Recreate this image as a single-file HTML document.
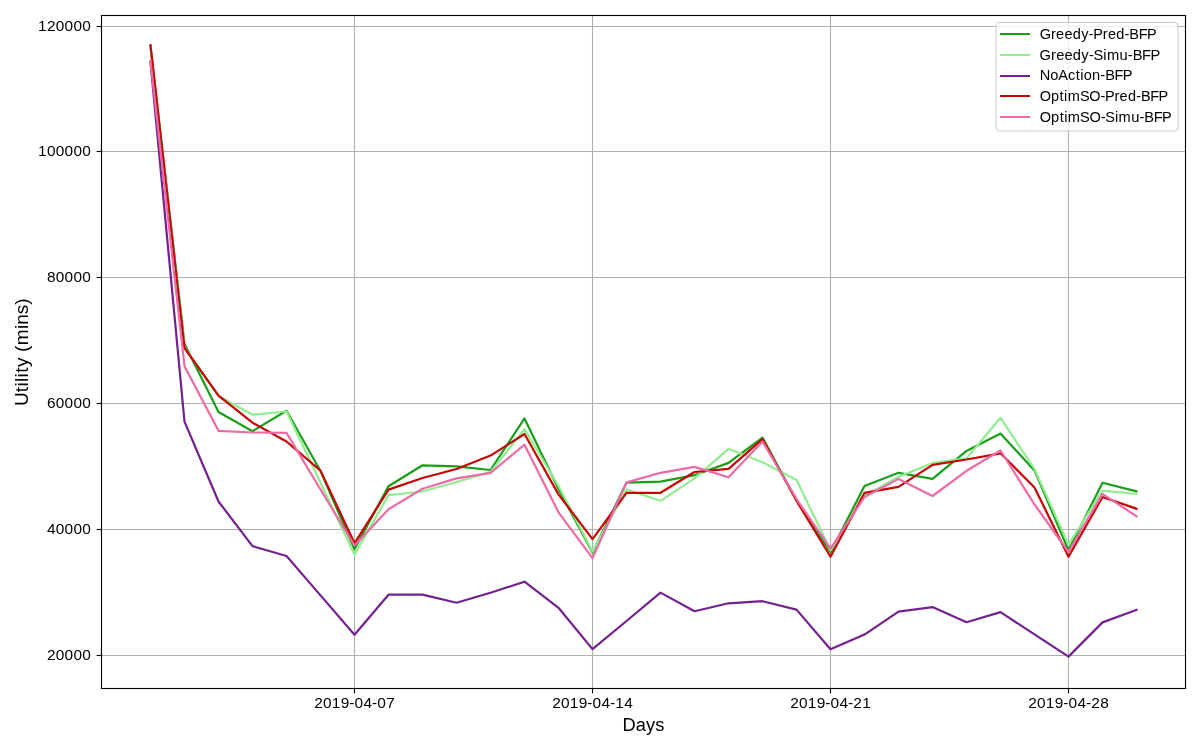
<!DOCTYPE html>
<html><head><meta charset="utf-8"><style>
html,body{margin:0;padding:0;background:#fff;width:1200px;height:750px;overflow:hidden}
svg{display:block;will-change:transform}
text{font-family:"Liberation Sans", sans-serif;fill:#000}
</style></head><body>
<svg width="1200" height="750" viewBox="0 0 1200 750">
<rect x="0" y="0" width="1200" height="750" fill="#fff"/>

<g stroke="#b0b0b0" stroke-width="1.11" fill="none">
<line x1="101.5" y1="26.5" x2="1185.5" y2="26.5"/>
<line x1="101.5" y1="151.5" x2="1185.5" y2="151.5"/>
<line x1="101.5" y1="277.5" x2="1185.5" y2="277.5"/>
<line x1="101.5" y1="403.5" x2="1185.5" y2="403.5"/>
<line x1="101.5" y1="529.5" x2="1185.5" y2="529.5"/>
<line x1="101.5" y1="655.5" x2="1185.5" y2="655.5"/>
<line x1="354.5" y1="15.5" x2="354.5" y2="688.5"/>
<line x1="592.5" y1="15.5" x2="592.5" y2="688.5"/>
<line x1="830.5" y1="15.5" x2="830.5" y2="688.5"/>
<line x1="1068.5" y1="15.5" x2="1068.5" y2="688.5"/>
</g>
<g fill="none" stroke-width="2.2" stroke-linejoin="round" stroke-linecap="square">
<path d="M150.5,46.0 L184.5,343.9 L218.5,412.0 L252.5,431.2 L286.5,410.8 L320.5,471.0 L354.5,549.2 L388.5,486.2 L422.5,465.3 L456.5,466.3 L490.5,470.0 L524.5,418.4 L558.5,489.0 L592.5,552.5 L626.5,482.7 L660.5,481.6 L694.5,475.2 L728.5,462.9 L762.5,437.6 L796.5,500.5 L830.5,552.2 L864.5,486.0 L898.5,472.8 L932.5,478.9 L966.5,450.9 L1000.5,433.6 L1034.5,470.4 L1068.5,550.3 L1102.5,482.8 L1136.5,491.3" stroke="#1a9e1a"/>
<path d="M150.5,46.0 L184.5,347.5 L218.5,396.0 L252.5,414.8 L286.5,411.5 L320.5,482.8 L354.5,554.6 L388.5,495.2 L422.5,491.5 L456.5,482.0 L490.5,471.9 L524.5,429.2 L558.5,486.0 L592.5,551.4 L626.5,489.6 L660.5,500.8 L694.5,478.4 L728.5,448.8 L762.5,462.3 L796.5,480.0 L830.5,550.2 L864.5,496.0 L898.5,476.8 L932.5,462.9 L966.5,458.4 L1000.5,417.8 L1034.5,469.0 L1068.5,544.6 L1102.5,490.7 L1136.5,493.9" stroke="#90ee90"/>
<path d="M150.5,62.0 L184.5,421.6 L218.5,501.5 L252.5,546.1 L286.5,556.0 L320.5,595.4 L354.5,634.8 L388.5,594.7 L422.5,594.6 L456.5,602.7 L490.5,592.7 L524.5,581.7 L558.5,607.8 L592.5,649.1 L626.5,621.0 L660.5,592.6 L694.5,611.2 L728.5,603.3 L762.5,601.2 L796.5,609.6 L830.5,649.2 L864.5,634.6 L898.5,611.6 L932.5,607.1 L966.5,622.2 L1000.5,612.1 L1034.5,634.4 L1068.5,656.6 L1102.5,622.4 L1136.5,609.8" stroke="#72218f"/>
<path d="M150.5,45.3 L184.5,348.0 L218.5,395.6 L252.5,422.7 L286.5,441.5 L320.5,470.6 L354.5,543.3 L388.5,489.6 L422.5,478.0 L456.5,469.0 L490.5,455.6 L524.5,434.0 L558.5,494.4 L592.5,539.1 L626.5,492.8 L660.5,492.8 L694.5,472.0 L728.5,468.8 L762.5,439.2 L796.5,500.8 L830.5,556.8 L864.5,492.8 L898.5,486.9 L932.5,464.8 L966.5,459.5 L1000.5,453.3 L1034.5,487.5 L1068.5,556.7 L1102.5,497.0 L1136.5,508.8" stroke="#c60505"/>
<path d="M150.5,61.0 L184.5,366.2 L218.5,430.8 L252.5,432.5 L286.5,432.9 L320.5,489.5 L354.5,545.5 L388.5,509.2 L422.5,488.7 L456.5,478.4 L490.5,472.8 L524.5,444.7 L558.5,512.3 L592.5,558.1 L626.5,482.4 L660.5,472.8 L694.5,466.9 L728.5,477.3 L762.5,441.5 L796.5,499.0 L830.5,548.6 L864.5,497.0 L898.5,478.9 L932.5,496.0 L966.5,470.8 L1000.5,450.5 L1034.5,504.5 L1068.5,552.0 L1102.5,493.9 L1136.5,516.3" stroke="#ee6aa7"/>
</g>
<rect x="101.5" y="15.5" width="1084.0" height="673.0" fill="none" stroke="#000" stroke-width="1.11"/>
<g stroke="#000" stroke-width="1.11">
<line x1="96.64" y1="26.5" x2="101.5" y2="26.5"/>
<line x1="96.64" y1="151.5" x2="101.5" y2="151.5"/>
<line x1="96.64" y1="277.5" x2="101.5" y2="277.5"/>
<line x1="96.64" y1="403.5" x2="101.5" y2="403.5"/>
<line x1="96.64" y1="529.5" x2="101.5" y2="529.5"/>
<line x1="96.64" y1="655.5" x2="101.5" y2="655.5"/>
<line x1="354.5" y1="688.5" x2="354.5" y2="693.36"/>
<line x1="592.5" y1="688.5" x2="592.5" y2="693.36"/>
<line x1="830.5" y1="688.5" x2="830.5" y2="693.36"/>
<line x1="1068.5" y1="688.5" x2="1068.5" y2="693.36"/>
</g>
<text transform="translate(37.98,30.70) scale(1.08,1)" x="0.11 8.30 16.48 24.66 32.85 41.03" y="0" font-size="14.3">120000</text>
<text transform="translate(37.98,155.70) scale(1.08,1)" x="0.11 8.30 16.48 24.66 32.85 41.03" y="0" font-size="14.3">100000</text>
<text transform="translate(46.81,281.70) scale(1.08,1)" x="0.11 8.30 16.48 24.66 32.85" y="0" font-size="14.3">80000</text>
<text transform="translate(46.81,407.70) scale(1.08,1)" x="0.11 8.30 16.48 24.66 32.85" y="0" font-size="14.3">60000</text>
<text transform="translate(46.81,533.70) scale(1.08,1)" x="0.11 8.30 16.48 24.66 32.85" y="0" font-size="14.3">40000</text>
<text transform="translate(46.81,659.70) scale(1.08,1)" x="0.11 8.30 16.48 24.66 32.85" y="0" font-size="14.3">20000</text>
<text transform="translate(314.14,708.00) scale(1.08,1)" x="0.10 8.26 16.41 24.56 32.61 37.47 45.63 53.68 58.53 66.69" y="0" font-size="14.3">2019-04-07</text>
<text transform="translate(552.14,708.00) scale(1.08,1)" x="0.10 8.26 16.41 24.56 32.61 37.47 45.63 53.68 58.53 66.69" y="0" font-size="14.3">2019-04-14</text>
<text transform="translate(790.14,708.00) scale(1.08,1)" x="0.10 8.26 16.41 24.56 32.61 37.47 45.63 53.68 58.53 66.69" y="0" font-size="14.3">2019-04-21</text>
<text transform="translate(1028.14,708.00) scale(1.08,1)" x="0.10 8.26 16.41 24.56 32.61 37.47 45.63 53.68 58.53 66.69" y="0" font-size="14.3">2019-04-28</text>
<text transform="translate(622.70,730.90) scale(1.037493667926587,1)" x="-0.08 12.56 22.54 31.41" y="0" font-size="17.6">Days</text>
<text transform="translate(27.80,405.73) rotate(-90) scale(1.08,1)" x="-0.26 12.51 17.84 22.00 26.15 30.51 35.87 44.85 49.86 56.00 70.98 75.08 84.80 93.56" y="0" font-size="17.6">Utility (mins)</text>
<rect x="995.9" y="22.5" width="182.2" height="108.5" rx="4" ry="4" fill="#fff" fill-opacity="0.8" stroke="#cccccc" stroke-width="1.11"/>
<line x1="1001" y1="34" x2="1029" y2="34" stroke="#1a9e1a" stroke-width="2" stroke-linecap="square"/>
<text transform="translate(1039.80,38.75) scale(1.01828278373474,1)" x="-0.17 10.98 16.02 24.14 32.33 40.63 48.01 52.45 61.83 66.87 75.06 83.18 87.90 97.11 105.25" y="0" font-size="14.3">Greedy-Pred-BFP</text>
<line x1="1001" y1="55" x2="1029" y2="55" stroke="#90ee90" stroke-width="2" stroke-linecap="square"/>
<text transform="translate(1039.80,59.55) scale(1.0276961436748322,1)" x="-0.19 10.92 15.92 24.01 32.16 40.43 47.78 52.29 61.69 65.28 77.59 85.68 90.36 99.54 107.64" y="0" font-size="14.3">Greedy-Simu-BFP</text>
<line x1="1001" y1="76" x2="1029" y2="76" stroke="#72218f" stroke-width="2" stroke-linecap="square"/>
<text transform="translate(1039.80,80.35) scale(1.0198561622572522,1)" x="-0.07 10.26 18.20 27.72 35.26 39.69 43.08 51.25 59.37 64.07 73.29 81.42" y="0" font-size="14.3">NoAction-BFP</text>
<line x1="1001" y1="96" x2="1029" y2="96" stroke="#c60505" stroke-width="2" stroke-linecap="square"/>
<text transform="translate(1039.80,101.15) scale(1.014064248832823,1)" x="-0.12 11.05 19.49 23.94 27.58 39.57 48.75 59.79 64.24 73.63 78.68 86.89 95.03 99.76 108.99 117.15" y="0" font-size="14.3">OptimSO-Pred-BFP</text>
<line x1="1001" y1="117" x2="1029" y2="117" stroke="#ee6aa7" stroke-width="2" stroke-linecap="square"/>
<text transform="translate(1039.80,121.95) scale(1.0226847574987648,1)" x="-0.14 10.98 19.40 23.83 27.43 39.38 48.52 59.52 64.05 73.47 77.07 89.41 97.52 102.22 111.42 119.54" y="0" font-size="14.3">OptimSO-Simu-BFP</text>
</svg></body></html>
